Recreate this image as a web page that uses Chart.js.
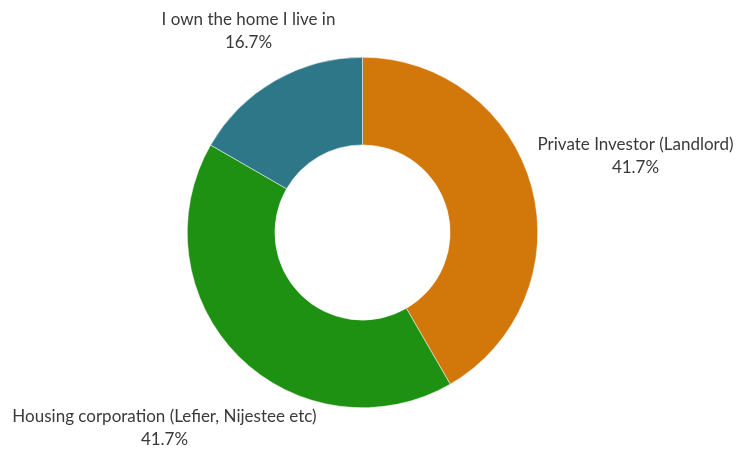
<!DOCTYPE html>
<html>
<head>
<meta charset="utf-8">
<script src="https://cdn.jsdelivr.net/npm/chart.js@4/dist/chart.umd.min.js"></script>
<style>
  html, body { margin: 0; padding: 0; background: #fff; }
</style>
</head>
<body>
<canvas id="mychart" width="738" height="451"></canvas>
<script>
const labels = [
  "Private Investor (Landlord)",
  "Housing corporation (Lefier, Nijestee etc)",
  "I own the home I live in",
];
const values = [41.7, 41.7, 16.7];
const colors = ["#d2770a", "#1e9012", "#2e7789"];

// label block centres relative to the doughnut centre
const labelOffsets = [
  [273, -76],
  [-198, 196],
  [-114, -201],
];

const outsideLabels = {
  id: "outsideLabels",
  afterDraw(chart) {
    const ctx = chart.ctx;
    const arcs = chart.getDatasetMeta(0).data;
    ctx.save();
    ctx.font = "17px Lato";
    ctx.fillStyle = "#3a3a3a";
    ctx.textAlign = "center";
    ctx.textBaseline = "middle";
    arcs.forEach((arc, i) => {
      const cx = arc.x + labelOffsets[i][0];
      const cy = arc.y + labelOffsets[i][1];
      ctx.fillText(labels[i], cx, cy - 11.5);
      ctx.fillText(values[i].toFixed(1) + "%", cx, cy + 11.5);
    });
    ctx.restore();
  },
};

const data = {
  labels: labels,
  datasets: [
    {
      data: values,
      backgroundColor: colors,
      borderColor: "#ffffff",
      borderWidth: 0.5,
    },
  ],
};

const config = {
  type: "doughnut",
  data: data,
  options: {
    responsive: false,
    animation: false,
    cutout: "50%",
    layout: { padding: { left: 187, right: 200, top: 57, bottom: 43 } },
    plugins: {
      legend: { display: false },
      tooltip: { enabled: false },
    },
  },
  plugins: [outsideLabels],
};

const mychart = new Chart(document.getElementById("mychart"), config);
</script>
</body>
</html>
